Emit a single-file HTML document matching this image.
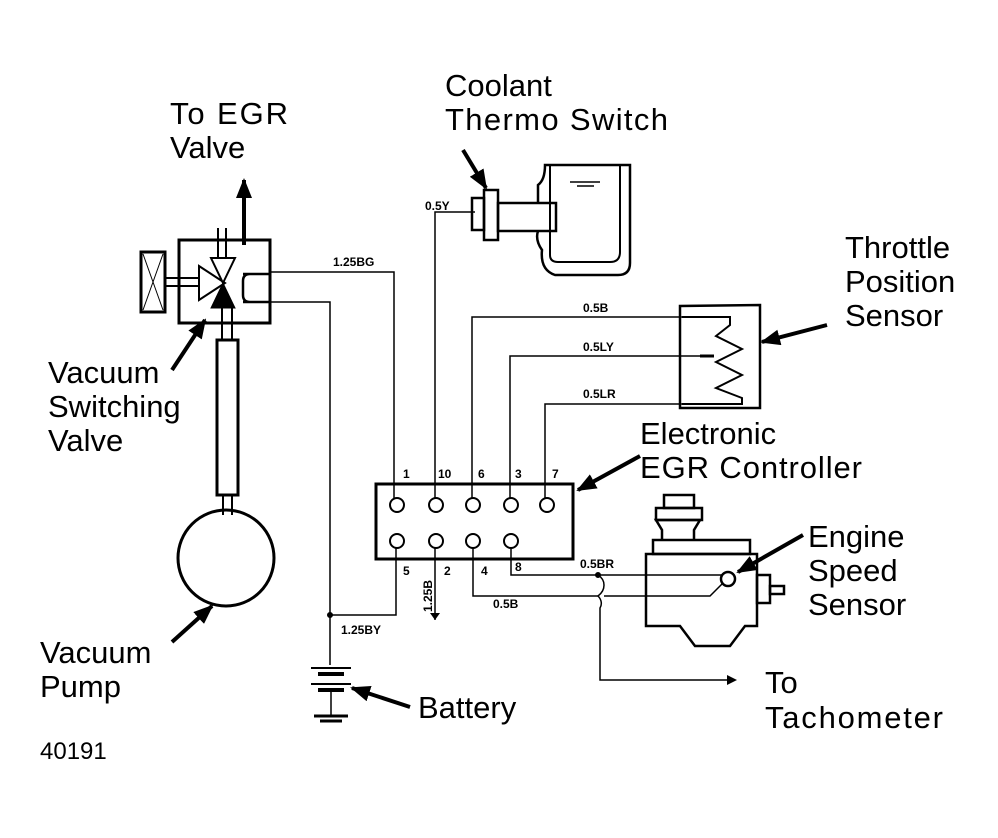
<!DOCTYPE html>
<html><head><style>
body{margin:0;background:#fff}
svg{display:block}
.t{font-family:"Liberation Sans",sans-serif;font-size:31px;fill:#000}
.s{font-family:"Liberation Sans",sans-serif;font-size:12px;font-weight:bold;fill:#000}
</style></head><body>
<svg width="998" height="838" viewBox="0 0 998 838" xmlns="http://www.w3.org/2000/svg">
<defs><marker id="a" markerWidth="10" markerHeight="10" refX="8" refY="5" orient="auto" markerUnits="userSpaceOnUse"><path d="M0,0 L10,5 L0,10 z" fill="#000"/></marker>
<marker id="b" markerWidth="20" markerHeight="16" refX="18" refY="8" orient="auto" markerUnits="userSpaceOnUse"><path d="M0,0 L20,8 L0,16 z" fill="#000"/></marker></defs>
<g fill="none" stroke="#000">
<!-- VSV -->
<rect x="179" y="240" width="91" height="83" stroke-width="3"/>
<rect x="141" y="252" width="24" height="60" stroke-width="3"/>
<path d="M143,254 L163,310 M163,254 L143,310" stroke-width="1"/>
<path d="M165,278 H200 M165,286 H200" stroke-width="2"/>
<path d="M243,274 H270 M243,302 H270 M250,274 Q243,274 243,281 V295 Q243,302 250,302" stroke-width="2.5"/>
<path d="M218,228 V258 M226,228 V258" stroke-width="2"/>
<path d="M199,266 L225,283 L199,300 z" stroke-width="2" fill="#fff"/>
<path d="M211,258 H235 L223,283 z" stroke-width="2" fill="#fff"/>
<path d="M211,308 H235 L223,283 z" fill="#000"/>
<path d="M222,308 V340 M232,308 V340" stroke-width="2"/>
<path d="M244,245 V180" stroke-width="4" marker-end="url(#b)"/>
<!-- tube & pump -->
<rect x="217" y="340" width="21" height="155" stroke-width="3"/>
<path d="M223,495 V515 M232,495 V515" stroke-width="2"/>
<circle cx="226" cy="558" r="48" stroke-width="3"/>
<!-- wires from VSV -->
<path d="M270,272 H394 V498" stroke-width="1.5"/>
<path d="M270,302 H330 V665" stroke-width="1.5"/>
<path d="M330,615 H396 V548" stroke-width="1.5"/>
<circle cx="330" cy="615" r="2.5" fill="#000"/>
<!-- battery -->
<path d="M311,668 H351" stroke-width="2"/>
<path d="M318,674 H344" stroke-width="4"/>
<path d="M311,684 H351" stroke-width="2"/>
<path d="M318,690 H344" stroke-width="4"/>
<path d="M331,690 V715" stroke-width="1.5"/>
<path d="M314,716 H348 M320,721 H342" stroke-width="3"/>
<!-- controller -->
<rect x="376" y="484" width="197" height="75" stroke-width="3"/>
<g stroke-width="2" fill="#fff">
<circle cx="397" cy="505" r="7"/><circle cx="436" cy="505" r="7"/><circle cx="473" cy="505" r="7"/><circle cx="511" cy="505" r="7"/><circle cx="547" cy="505" r="7"/>
<circle cx="397" cy="541" r="7"/><circle cx="436" cy="541" r="7"/><circle cx="473" cy="541" r="7"/><circle cx="511" cy="541" r="7"/>
</g>
<g stroke-width="1.5">
<path d="M435,498 V212 H475 M472,498 V317 H682 M510,498 V356 H700 M545,498 V404 H682"/>
<path d="M435,548 V620 M473,548 V596 H598 M511,548 V575 H598"/>
<path d="M598,575 H728"/>
<path d="M604,596 H710 L722,584"/>
<path d="M598,575 C606,580 606,590 598,596 C602,600 602,605 600,608 V680 H735" marker-end="url(#a)"/>
</g>
<circle cx="598" cy="575" r="2.5" fill="#000"/>
<path d="M435,620 L430,613 H440 z" fill="#000" stroke="none"/>
<path d="M680,306 V408 H760 V305 Z" stroke-width="2.5"/>
<path d="M682,317 H730 V325 L716,336 L742,349 L716,362 L742,375 L716,388 L742,398 V404 H682" stroke-width="2"/>
<path d="M700,356 H714" stroke-width="3"/>
<!-- coolant switch -->
<rect x="472" y="198" width="12" height="32" stroke-width="2.5"/>
<rect x="484" y="190" width="14" height="50" stroke-width="2.5"/>
<rect x="498" y="203" width="58" height="28" stroke-width="2.5"/>
<path d="M538,203 V185 Q545,180 545,165 H630 V263 Q630,275 618,275 H555 Q540,270 542,250 Q535,240 538,231" stroke-width="2.5"/>
<path d="M550,165 V255 Q550,262 558,262 H610 Q620,262 620,252 V165" stroke-width="2"/>
<path d="M570,182 H600 M577,186 H594" stroke-width="1.5"/>
<!-- engine speed sensor -->
<path d="M646,554 H757 V626 H745 L730,646 H695 L680,626 H646 Z" stroke-width="2.5"/>
<rect x="653" y="540" width="97" height="14" stroke-width="2.5"/>
<path d="M662,540 V530 L656,520 H700 L694,530 V540" stroke-width="2.5"/>
<rect x="656" y="508" width="46" height="12" stroke-width="2.5"/>
<rect x="664" y="495" width="30" height="13" stroke-width="2.5"/>
<rect x="757" y="575" width="13" height="28" stroke-width="2.5"/>
<rect x="770" y="586" width="14" height="8" stroke-width="2.5"/>
<circle cx="728" cy="579" r="7" stroke-width="2.5" fill="#fff"/>
<!-- pointer arrows -->
<g stroke-width="4">
<path d="M463,150 L486,188" marker-end="url(#b)"/>
<path d="M827,325 L762,342" marker-end="url(#b)"/>
<path d="M640,456 L578,490" marker-end="url(#b)"/>
<path d="M803,535 L738,572" marker-end="url(#b)"/>
<path d="M172,370 L205,320" marker-end="url(#b)"/>
<path d="M172,642 L212,606" marker-end="url(#b)"/>
<path d="M410,707 L352,688" marker-end="url(#b)"/>
</g>
</g>
<!-- labels -->
<text class="t" x="170" y="124" textLength="118">To EGR</text>
<text class="t" x="170" y="158">Valve</text>
<text class="t" x="445" y="96">Coolant</text>
<text class="t" x="445" y="130" textLength="223">Thermo Switch</text>
<text class="t" x="845" y="258">Throttle</text>
<text class="t" x="845" y="292">Position</text>
<text class="t" x="845" y="326">Sensor</text>
<text class="t" x="640" y="444">Electronic</text>
<text class="t" x="640" y="478" textLength="222">EGR Controller</text>
<text class="t" x="808" y="547">Engine</text>
<text class="t" x="808" y="581">Speed</text>
<text class="t" x="808" y="615">Sensor</text>
<text class="t" x="765" y="693">To</text>
<text class="t" x="765" y="728" textLength="178">Tachometer</text>
<text class="t" x="48" y="383">Vacuum</text>
<text class="t" x="48" y="417">Switching</text>
<text class="t" x="48" y="451">Valve</text>
<text class="t" x="40" y="663">Vacuum</text>
<text class="t" x="40" y="697">Pump</text>
<text class="t" x="418" y="718">Battery</text>
<text class="t" x="40" y="759" style="font-size:24px">40191</text>
<text class="s" x="333" y="266">1.25BG</text>
<text class="s" x="425" y="210">0.5Y</text>
<text class="s" x="583" y="312">0.5B</text>
<text class="s" x="583" y="351">0.5LY</text>
<text class="s" x="583" y="398">0.5LR</text>
<text class="s" x="580" y="568">0.5BR</text>
<text class="s" x="493" y="608">0.5B</text>
<text class="s" x="341" y="634">1.25BY</text>
<text class="s" x="403" y="478">1</text><text class="s" x="438" y="478">10</text><text class="s" x="478" y="478">6</text><text class="s" x="515" y="478">3</text><text class="s" x="552" y="478">7</text>
<text class="s" x="403" y="575">5</text><text class="s" x="444" y="575">2</text><text class="s" x="481" y="575">4</text><text class="s" x="515" y="571">8</text>
<text class="s" transform="translate(432,612) rotate(-90)">1.25B</text>
</svg>
</body></html>
